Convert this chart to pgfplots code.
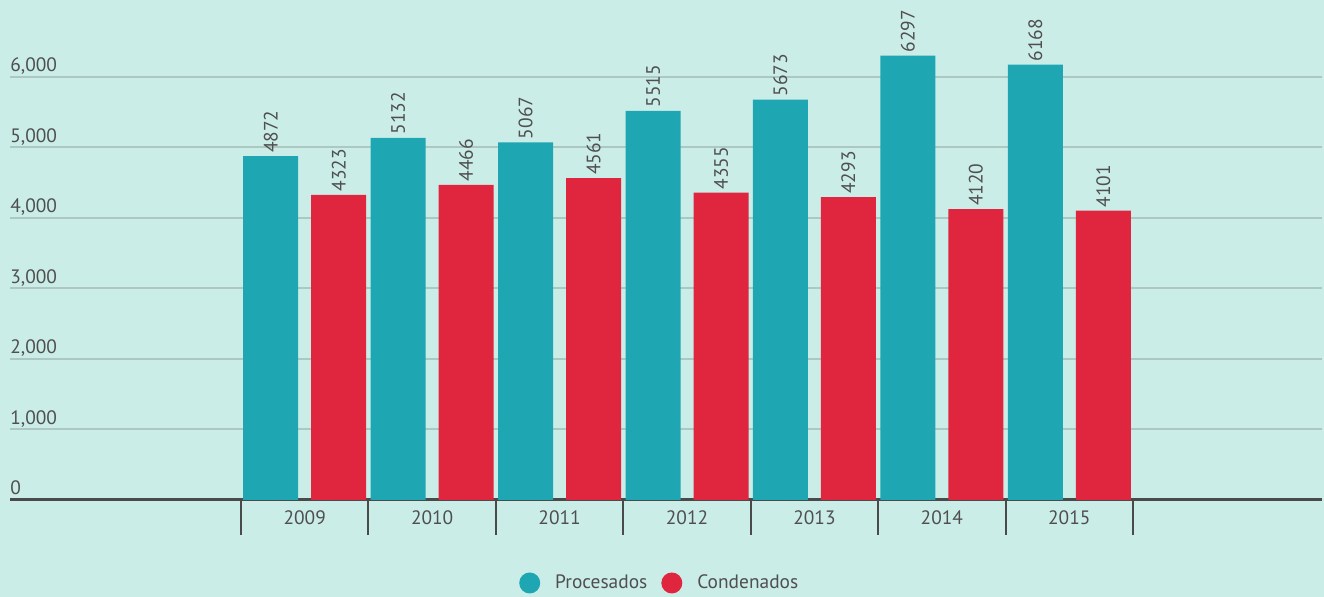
\documentclass[border=0pt]{standalone}
\usepackage{pgfplots}
\pgfplotsset{compat=1.18}
\usepackage{fontspec}
\setmainfont{PT Sans}

\definecolor{bg}{HTML}{CBEDE8}
\definecolor{teal1}{HTML}{1FA6B3}
\definecolor{red1}{HTML}{E0253E}
\definecolor{txt}{HTML}{4F4F4F}
\definecolor{gridc}{HTML}{ADC8C3}
\definecolor{axisc}{HTML}{4A4A4A}

\begin{document}
\begin{tikzpicture}
\fill[bg] (-5pt,-48.5pt) rectangle (657pt,250pt);
\begin{axis}[
    at={(0,0)}, anchor=south west,
    scale only axis,
    width=656pt, height=247pt,
    ybar=6.5pt, bar width=27.5pt,
    xmin=-2.313, xmax=7.983,
    ymin=0, ymax=7000,
    enlargelimits=false,
    axis x line*=bottom,
    axis y line*=left,
    y axis line style={draw=none},
    x axis line style={draw=axisc, line width=1.5pt},
    xtick={0,1,2,3,4,5,6},
    xticklabels={2009,2010,2011,2012,2013,2014,2015},
    major tick length=0pt,
    ytick style={draw=none},
    extra x ticks={-0.5,0.5,1.5,2.5,3.5,4.5,5.5,6.5},
    extra x tick labels={},
    extra x tick style={major tick length=17.5pt, tick align=outside,
        tick style={draw=axisc, line width=1pt}},
    xticklabel style={font=\fontsize{9.7}{11}\selectfont, text=txt, yshift=-2pt},
    ytick={0,1000,2000,3000,4000,5000,6000},
    ymajorgrids,
    grid style={draw=gridc, line width=1pt},
    yticklabel style={font=\fontsize{9.7}{11}\selectfont, text=txt,
        anchor=base west, inner sep=0pt, xshift=0pt, yshift=2.5pt,
        /pgf/number format/1000 sep={,},
        /pgf/number format/assume math mode=true},
    nodes near coords,
    nodes near coords style={font=\fontsize{9.7}{11}\selectfont, text=txt,
        rotate=90, anchor=west, inner sep=1.5pt,
        /pgf/number format/1000 sep={},
        /pgf/number format/assume math mode=true},
    legend columns=2,
    legend style={draw=none, fill=none, at={(0.496,0)}, anchor=center,
        yshift=-41.5pt, font=\fontsize{9.7}{11}\selectfont, text=txt,
        /tikz/every even column/.style={column sep=5pt}},
    legend cell align=left,
    legend image code/.code={\fill[#1, draw=none] (5.25pt,0) circle (5.25pt);
        \path (16pt,0);},
]
\addplot[fill=teal1, draw=none] coordinates {
    (0,4872) (1,5132) (2,5067) (3,5515) (4,5673) (5,6297) (6,6168)};
\addlegendentry{Procesados}
\addplot[fill=red1, draw=none] coordinates {
    (0,4323) (1,4466) (2,4561) (3,4355) (4,4293) (5,4120) (6,4101)};
\addlegendentry{Condenados}
\end{axis}
\pgfresetboundingbox
\path[use as bounding box] (-5pt,-48.5pt) rectangle (657pt,250pt);
\end{tikzpicture}
\end{document}
